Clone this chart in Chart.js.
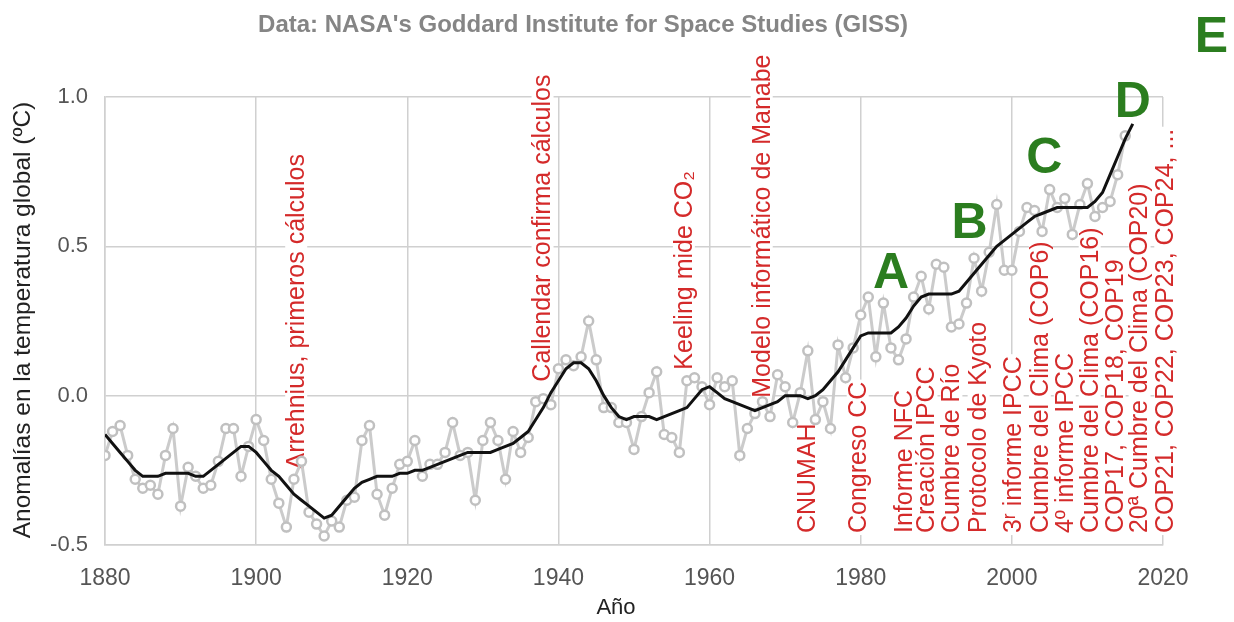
<!DOCTYPE html>
<html>
<head>
<meta charset="utf-8">
<script src="https://cdn.jsdelivr.net/npm/chart.js@4.4.1/dist/chart.umd.min.js"></script>
<style>
    html, body { margin: 0; background: #fff; }
    #wrap { width: 1234px; height: 622px; position: relative; }
</style>
</head>
<body>
<div id="wrap"><canvas id="giss"></canvas></div>
<script>
// GISS global temperature anomalies (ºC)
const firstYear = 1880;
const annualAnomaly = [
    -0.20, -0.12, -0.10, -0.20, -0.28, -0.31, -0.30, -0.33, -0.20, -0.11,
    -0.37, -0.24, -0.27, -0.31, -0.30, -0.22, -0.11, -0.11, -0.27, -0.17,
    -0.08, -0.15, -0.28, -0.36, -0.44, -0.28, -0.22, -0.39, -0.43, -0.47,
    -0.42, -0.44, -0.35, -0.34, -0.15, -0.10, -0.33, -0.40, -0.31, -0.23,
    -0.22, -0.15, -0.27, -0.23, -0.23, -0.19, -0.09, -0.20, -0.19, -0.35,
    -0.15, -0.09, -0.15, -0.28, -0.12, -0.19, -0.14, -0.02, -0.01, -0.03,
    0.09, 0.12, 0.10, 0.13, 0.25, 0.12, -0.04, -0.04, -0.09, -0.09,
    -0.18, -0.07, 0.01, 0.08, -0.13, -0.14, -0.19, 0.05, 0.06, 0.03,
    -0.03, 0.06, 0.03, 0.05, -0.20, -0.11, -0.06, -0.02, -0.07, 0.07,
    0.03, -0.09, 0.01, 0.15, -0.08, -0.02, -0.11, 0.17, 0.06, 0.16,
    0.27, 0.33, 0.13, 0.31, 0.16, 0.12, 0.19, 0.33, 0.40, 0.29,
    0.44, 0.43, 0.23, 0.24, 0.31, 0.46, 0.35, 0.48, 0.64, 0.42,
    0.42, 0.55, 0.63, 0.62, 0.55, 0.69, 0.63, 0.66, 0.54, 0.64,
    0.71, 0.60, 0.63, 0.65, 0.74, 0.87
];
// smoothed (black) curve, 1880-2016
const smoothAnomaly = [
    -0.13, -0.16, -0.19, -0.22, -0.25, -0.27, -0.27, -0.27, -0.26, -0.26,
    -0.26, -0.26, -0.27, -0.27, -0.25, -0.23, -0.21, -0.19, -0.17, -0.17,
    -0.19, -0.22, -0.25, -0.27, -0.30, -0.33, -0.35, -0.37, -0.39, -0.41,
    -0.40, -0.37, -0.34, -0.31, -0.29, -0.28, -0.27, -0.27, -0.27, -0.26,
    -0.26, -0.25, -0.25, -0.24, -0.23, -0.22, -0.21, -0.20, -0.19, -0.19,
    -0.19, -0.19, -0.18, -0.17, -0.16, -0.14, -0.12, -0.08, -0.04, 0.01,
    0.05, 0.09, 0.11, 0.11, 0.09, 0.05, 0.00, -0.04, -0.07, -0.08,
    -0.07, -0.07, -0.07, -0.08, -0.07, -0.06, -0.05, -0.04, -0.01, 0.02,
    0.03, 0.01, -0.01, -0.02, -0.03, -0.04, -0.05, -0.04, -0.03, -0.02,
    0.00, 0.00, 0.00, -0.01, 0.00, 0.02, 0.05, 0.08, 0.12, 0.16,
    0.20, 0.21, 0.21, 0.21, 0.21, 0.23, 0.26, 0.30, 0.33, 0.34,
    0.34, 0.34, 0.34, 0.35, 0.38, 0.41, 0.44, 0.47, 0.50, 0.52,
    0.54, 0.56, 0.58, 0.60, 0.61, 0.62, 0.63, 0.63, 0.63, 0.63,
    0.63, 0.65, 0.68, 0.74, 0.80, 0.86, 0.91
];
const xTicks = [1880, 1900, 1920, 1940, 1960, 1980, 2000, 2020];
const yTicks = [-0.5, 0.0, 0.5, 1.0];

// red event labels: year of the column, value where the text starts
const events = [
    { text: 'Arrehnius, primeros cálculos', year: 1905.3, at: -0.247 },
    { text: 'Callendar confirma cálculos', year: 1937.9, at: 0.047 },
    { text: 'Keeling mide CO₂', year: 1956.6, at: 0.087 },
    { text: 'Modelo informático de Manabe', year: 1966.9, at: -0.007 },
    { text: 'CNUMAH', year: 1972.9, at: -0.46 },
    { text: 'Congreso CC', year: 1979.6, at: -0.46 },
    { text: 'Informe NFC', year: 1985.7, at: -0.46 },
    { text: 'Creación IPCC', year: 1988.7, at: -0.46 },
    { text: 'Cumbre de Río', year: 1992.0, at: -0.46 },
    { text: 'Protocolo de Kyoto', year: 1995.6, at: -0.46 },
    { text: '3ʳ informe IPCC', year: 2000.1, at: -0.46 },
    { text: 'Cumbre del Clima (COP6)', year: 2003.7, at: -0.46 },
    { text: '4º informe IPCC', year: 2007.0, at: -0.46 },
    { text: 'Cumbre del Clima (COP16)', year: 2010.3, at: -0.46 },
    { text: 'COP17, COP18, COP19', year: 2013.6, at: -0.46 },
    { text: '20ª Cumbre del Clima (COP20)', year: 2016.9, at: -0.46 },
    { text: 'COP21, COP22, COP23, COP24, ...', year: 2020.3, at: -0.46 }
];
const letters = [
    { text: 'A', year: 1984.0, at: 0.413 },
    { text: 'B', year: 1994.4, at: 0.58 },
    { text: 'C', year: 2004.3, at: 0.797 },
    { text: 'D', year: 2016.0, at: 0.987 },
    { text: 'E', year: 2026.4, at: 1.203 }
];

const annualPoints = annualAnomaly.map((v, i) => ({ x: firstYear + i, y: v }));
const smoothPoints = smoothAnomaly.map((v, i) => ({ x: firstYear + i, y: v }));

const FONT = '"Liberation Sans", Arial, sans-serif';

const overlay = {
    id: 'overlay',
    beforeDatasetsDraw(chart) {
        const { ctx, scales: { x, y } } = chart;
        ctx.save();
        ctx.font = '25px ' + FONT;
        ctx.textAlign = 'left';
        ctx.textBaseline = 'middle';
        events.forEach(ev => {
            const px = x.getPixelForValue(ev.year);
            const py = y.getPixelForValue(ev.at);
            const w = ctx.measureText(ev.text).width;
            ctx.save();
            ctx.translate(px, py);
            ctx.rotate(-Math.PI / 2);
            ctx.fillStyle = '#fff';
            ctx.fillRect(-2, -11, w + 4, 22);
            ctx.fillStyle = '#d42a2a';
            ctx.fillText(ev.text, 0, 1);
            ctx.restore();
        });
        ctx.restore();
    },
    afterDraw(chart) {
        const { ctx, scales: { x, y } } = chart;
        ctx.save();
        ctx.font = 'bold 50px ' + FONT;
        ctx.textAlign = 'center';
        ctx.textBaseline = 'middle';
        ctx.fillStyle = '#2b7d1f';
        letters.forEach(l => {
            ctx.fillText(l.text, x.getPixelForValue(l.year), y.getPixelForValue(l.at) + 2);
        });
        // title
        ctx.font = 'bold 24px ' + FONT;
        ctx.fillStyle = '#858585';
        ctx.fillText("Data: NASA's Goddard Institute for Space Studies (GISS)", 583, 25);
        // axis titles
        ctx.fillStyle = '#222';
        ctx.font = '22px ' + FONT;
        ctx.fillText('Año', 616, 608);
        ctx.save();
        ctx.translate(23, 320);
        ctx.rotate(-Math.PI / 2);
        ctx.font = '24.5px ' + FONT;
        ctx.fillText('Anomalías en la temperatura global (ºC)', 0, 0);
        ctx.restore();
        ctx.restore();
    }
};

const gridColor = '#d0d0d0';

new Chart(document.getElementById('giss'), {
    type: 'line',
    data: {
        datasets: [
            {
                data: smoothPoints,
                borderColor: '#111',
                borderWidth: 3,
                pointRadius: 0,
                tension: 0
            },
            {
                data: annualPoints,
                borderColor: '#cbcbcb',
                borderWidth: 3,
                pointRadius: 4.5,
                pointBackgroundColor: '#fff',
                pointBorderColor: '#c0c0c0',
                pointBorderWidth: 2.5,
                tension: 0
            }
        ]
    },
    options: {
        responsive: true,
        maintainAspectRatio: false,
        animation: false,
        events: [],
        layout: { padding: { top: 97, right: 71, left: 0, bottom: 0 } },
        plugins: { legend: { display: false }, tooltip: { enabled: false } },
        scales: {
            x: {
                type: 'linear',
                min: 1880,
                max: 2020,
                afterBuildTicks: s => { s.ticks = xTicks.map(v => ({ value: v })); },
                afterFit: s => { s.height = 77; },
                ticks: {
                    padding: 20,
                    color: '#555',
                    font: { size: 23, family: FONT },
                    callback: v => String(v)
                },
                grid: { color: gridColor, lineWidth: 1.5, drawTicks: false },
                border: { color: gridColor, width: 1.5 }
            },
            y: {
                min: -0.5,
                max: 1.0,
                afterBuildTicks: s => { s.ticks = yTicks.map(v => ({ value: v })); },
                afterFit: s => { s.width = 105; },
                ticks: {
                    padding: 17,
                    color: '#555',
                    font: { size: 22, family: FONT },
                    callback: v => v.toFixed(1)
                },
                grid: { color: gridColor, lineWidth: 1.5, drawTicks: false },
                border: { color: gridColor, width: 1.5 }
            }
        }
    },
    plugins: [overlay]
});
</script>
</body>
</html>
